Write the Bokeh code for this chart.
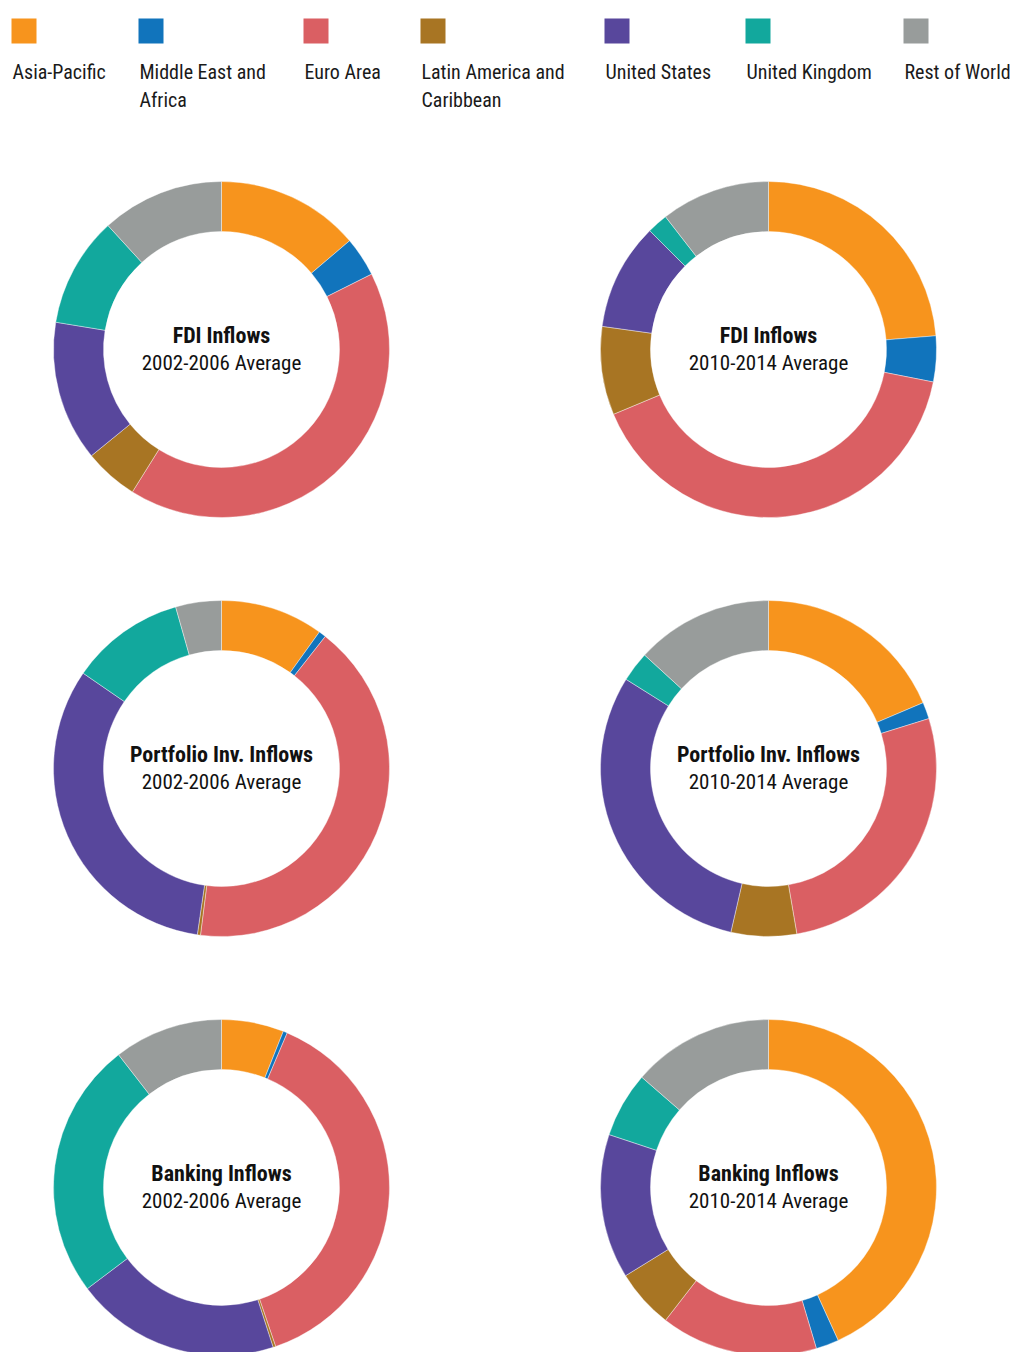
import math
from bokeh.plotting import figure
from bokeh.models import Range1d, ColumnDataSource
from bokeh.core.properties import value
from bokeh.embed import file_html
from bokeh.resources import INLINE

# ---------------- data ----------------
regions = ["Asia-Pacific", "Middle East and Africa", "Euro Area",
           "Latin America and Caribbean", "United States", "United Kingdom",
           "Rest of World"]
legend_labels = ["Asia-Pacific", "Middle East and\nAfrica", "Euro Area",
                 "Latin America and\nCaribbean", "United States",
                 "United Kingdom", "Rest of World"]
colors = ["#F7941D", "#1174BC", "#DA5F63", "#A87523", "#58479C", "#12A89D", "#989C9B"]

fdi_2002_2006 = [13.8, 3.8, 41.3, 5.2, 13.5, 10.6, 11.8]
fdi_2010_2014 = [23.7, 4.4, 40.6, 8.5, 10.3, 2.0, 10.5]
portfolio_2002_2006 = [9.9, 0.7, 41.4, 0.3, 32.3, 11.0, 4.4]
portfolio_2010_2014 = [18.6, 1.6, 27.1, 6.3, 30.3, 2.9, 13.2]
banking_2002_2006 = [6.0, 0.4, 38.4, 0.25, 19.7, 24.8, 10.5]
banking_2010_2014 = [43.2, 2.2, 15.1, 5.7, 13.9, 6.3, 13.6]

chart_titles = ["FDI Inflows", "FDI Inflows",
                "Portfolio Inv. Inflows", "Portfolio Inv. Inflows",
                "Banking Inflows", "Banking Inflows"]
chart_periods = ["2002-2006 Average", "2010-2014 Average",
                 "2002-2006 Average", "2010-2014 Average",
                 "2002-2006 Average", "2010-2014 Average"]
chart_series = [fdi_2002_2006, fdi_2010_2014,
                portfolio_2002_2006, portfolio_2010_2014,
                banking_2002_2006, banking_2010_2014]

# ---------------- layout ----------------
W, H = 1012, 1352
col_x = [221, 768]
row_y = [349, 768, 1187]
R_IN, R_OUT = 118, 168
legend_x = [11, 138, 303, 420, 604, 745, 903]
FONT = "Roboto Condensed"
TEXT_SHIFT = 8  # compensation for baseline placement of svg text

def fy(page_y):
    return H - page_y

p = figure(width=W, height=H, output_backend="svg", toolbar_location=None,
           x_range=Range1d(0, W), y_range=Range1d(0, H),
           min_border=0, border_fill_color="white", background_fill_color="white")
p.axis.visible = False
p.grid.visible = False
p.outline_line_color = None

# donuts
for i, series in enumerate(chart_series):
    cx = col_x[i % 2]
    cyp = row_y[i // 2]
    cy = fy(cyp)
    total = float(sum(series))
    starts, ends = [], []
    acc = 0.0
    for v in series:
        t0 = acc / total * 2 * math.pi
        acc += v
        t1 = acc / total * 2 * math.pi
        starts.append(math.pi / 2 - t1)
        ends.append(math.pi / 2 - t0)
    src = ColumnDataSource(dict(x=[cx] * len(series), y=[cy] * len(series),
                                start=starts, end=ends, color=colors,
                                region=regions, val=series))
    p.annular_wedge(x="x", y="y", inner_radius=R_IN, outer_radius=R_OUT,
                    start_angle="start", end_angle="end", direction="anticlock",
                    fill_color="color", line_color="white", line_width=0.4,
                    source=src)
    p.text(x=[cx], y=[fy(cyp - 5.7 - TEXT_SHIFT)], text=[chart_titles[i]],
           text_align="center", text_baseline="alphabetic", text_font=value(FONT),
           text_font_style="bold", text_font_size="22px", text_color="#111111")
    p.text(x=[cx], y=[fy(cyp + 21 - TEXT_SHIFT)], text=[chart_periods[i]],
           text_align="center", text_baseline="alphabetic", text_font=value(FONT),
           text_font_size="21px", text_color="#111111")

# legend
p.rect(x=[lx + 12.5 for lx in legend_x], y=[fy(30.5)] * len(legend_x),
       width=25, height=25, fill_color=colors, line_color=None)
tx, ty, tt = [], [], []
for lx, lab in zip(legend_x, legend_labels):
    for k, line in enumerate(lab.split("\n")):
        tx.append(lx + 1)
        ty.append(fy(79.3 + 28 * k - TEXT_SHIFT))
        tt.append(line)
p.text(x=tx, y=ty, text=tt, text_align="left", text_baseline="alphabetic",
       text_font=value(FONT), text_font_size="20px", text_color="#1a1a1a")

open("out.html", "w").write(file_html(p, INLINE))
